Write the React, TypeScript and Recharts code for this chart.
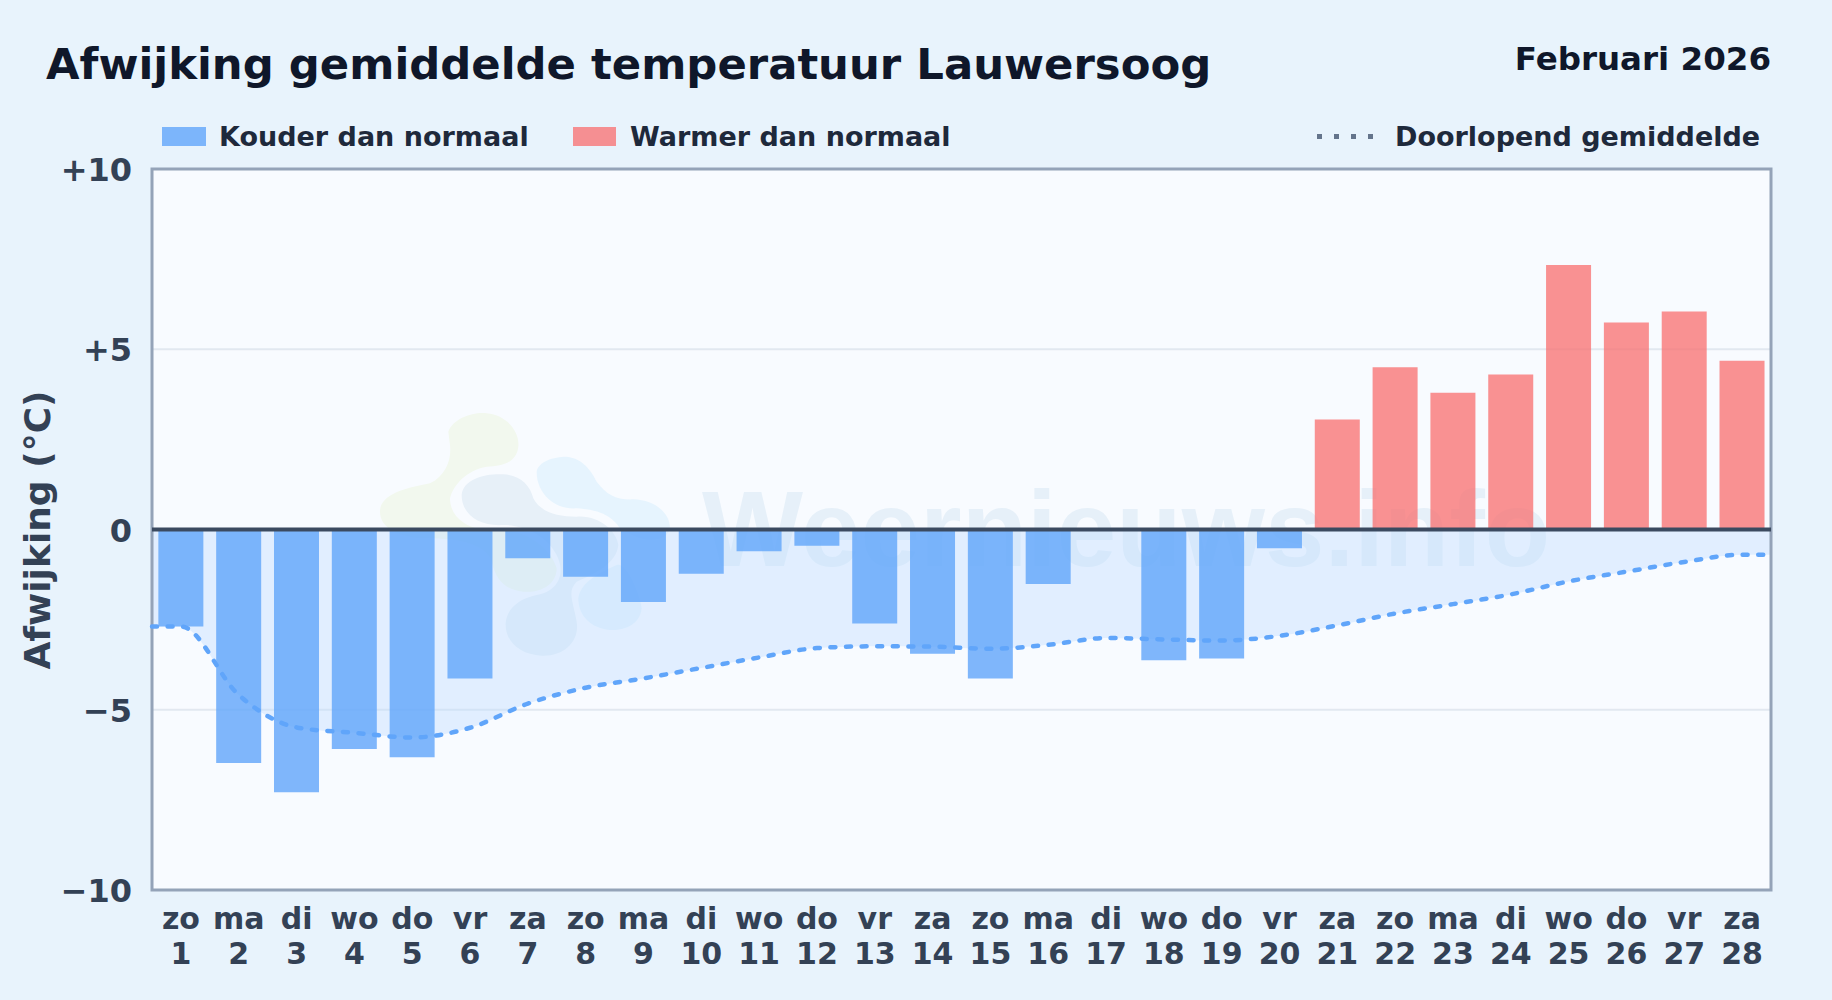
import {
  ComposedChart,
  Area,
  Bar,
  Line,
  Rectangle,
  XAxis,
  YAxis,
  CartesianGrid,
  ReferenceArea,
  ReferenceLine,
} from 'recharts'

const weekdays = ['zo', 'ma', 'di', 'wo', 'do', 'vr', 'za', 'zo', 'ma', 'di', 'wo', 'do', 'vr', 'za', 'zo', 'ma', 'di', 'wo', 'do', 'vr', 'za', 'zo', 'ma', 'di', 'wo', 'do', 'vr', 'za']
const days = [1, 2, 3, 4, 5, 6, 7, 8, 9, 10, 11, 12, 13, 14, 15, 16, 17, 18, 19, 20, 21, 22, 23, 24, 25, 26, 27, 28]
const deviation = [-2.69, -6.48, -7.29, -6.09, -6.32, -4.13, -0.8, -1.31, -2.01, -1.23, -0.6, -0.45, -2.61, -3.45, -4.13, -1.51, 0, -3.63, -3.58, -0.52, 3.05, 4.5, 3.79, 4.3, 7.34, 5.74, 6.05, 4.68]
const runningMean = [-2.69, -4.59, -5.49, -5.64, -5.77, -5.5, -4.83, -4.39, -4.13, -3.84, -3.55, -3.29, -3.24, -3.25, -3.31, -3.2, -3.01, -3.05, -3.08, -2.95, -2.66, -2.33, -2.07, -1.8, -1.44, -1.17, -0.9, -0.7]
const yTicks = [-10, -5, 0, 5, 10]
const yLabels = ['\u221210', '\u22125', '0', '+5', '+10']

const WIDTH = 1832
const HEIGHT = 1000
const BAR_WIDTH = 45
const FONT = '"DejaVu Sans", sans-serif'
const COLD = '#60a5fa'
const WARM = '#f87171'
const AXIS_TEXT = '#334155'

const barRows = days.map((day, i) => ({ day, value: deviation[i] }))

// the mean line runs on to both plot edges, so its table has a half-day extra on each side
const meanRows = [
  { day: 0.5, mean: runningMean[0] },
  ...days.map((day, i) => ({ day, mean: runningMean[i] })),
  { day: 28.5, mean: runningMean[27] },
]

function DayTick({ x, y, payload }: any) {
  const i = days.indexOf(payload.value)
  return (
    <text x={x} textAnchor="middle" fontFamily={FONT} fontSize={30} fontWeight={700} fill={AXIS_TEXT}>
      <tspan x={x} y={y + 31}>{weekdays[i]}</tspan>
      <tspan x={x} y={y + 66}>{payload.value}</tspan>
    </text>
  )
}

function ValueTick({ x, y, payload }: any) {
  return (
    <text x={x} y={y + 12} textAnchor="end" fontFamily={FONT} fontSize={32} fontWeight={700} fill={AXIS_TEXT}>
      {yLabels[yTicks.indexOf(payload.value)]}
    </text>
  )
}

// the half-day table points narrow the band, so the bar is widened around its own centre
function DayBar(props: any) {
  const cold = props.payload.value < 0
  return (
    <Rectangle
      {...props}
      x={props.x + (props.width - BAR_WIDTH) / 2}
      width={BAR_WIDTH}
      fill={cold ? COLD : WARM}
      fillOpacity={cold ? 0.8 : 0.77}
    />
  )
}

// site logo and name behind the plot, traced at 3x
function Watermark() {
  return (
    <svg width={WIDTH} height={HEIGHT} style={{ position: 'absolute', left: 0, top: 0 }}>
      <g transform="translate(360 395) scale(0.3333)">
        <path fill="#f2f8ee" d="M265 110 C280 70 340 50 380 55 C440 60 480 110 475 155 C470 200 430 215 380 215 C320 225 280 270 270 310 C270 360 310 395 370 405 C480 390 570 450 590 520 C590 570 540 595 490 590 C440 585 410 560 395 500 C380 450 300 430 200 430 C120 430 60 400 60 350 C60 300 130 280 210 265 C260 240 275 190 270 150 Z" />
        <path fill="#e7f0f8" d="M305 300 C310 250 380 235 430 238 C480 240 510 270 520 310 C540 350 590 365 650 365 C720 360 770 410 775 450 C770 500 720 530 650 560 C620 590 640 620 650 680 C660 740 610 785 545 782 C480 780 435 740 437 685 C440 640 480 610 530 600 C590 590 620 540 590 480 C560 420 490 390 430 390 C360 395 305 360 305 300 Z" />
        <path fill="#e6f4fe" d="M530 230 C535 200 580 185 620 185 C670 190 695 230 710 260 C740 300 770 315 820 313 C880 315 930 350 930 400 C925 430 870 460 780 400 C760 370 730 345 650 340 C590 345 530 300 530 230 Z" />
        <path fill="#e6f4fe" d="M655 610 C660 570 700 540 770 510 C800 500 840 600 845 640 C840 690 790 708 750 705 C690 700 655 660 655 610 Z" />
      </g>
      <text x={702} y={566} fontFamily='"Liberation Sans", sans-serif' fontSize={107} fontWeight={700} fill="#e6f0f9">
        Weernieuws.info
      </text>
    </svg>
  )
}

export default function App() {
  return (
    <div style={{ position: 'absolute', left: 0, top: 0, width: WIDTH, height: HEIGHT, background: '#e8f3fc', fontFamily: FONT, overflow: 'hidden' }}>
      <div style={{ position: 'absolute', left: 152, top: 169, width: 1619, height: 721, background: '#f8fbff' }} />
      <Watermark />

      <div style={{ position: 'absolute', left: 46, top: 39, fontSize: 43.35, fontWeight: 700, color: '#0f172a', whiteSpace: 'nowrap' }}>
        Afwijking gemiddelde temperatuur Lauwersoog
      </div>
      <div style={{ position: 'absolute', right: 61, top: 40, fontSize: 32.5, fontWeight: 700, color: '#0f172a', whiteSpace: 'nowrap' }}>
        Februari 2026
      </div>

      <div style={{ position: 'absolute', left: 162, top: 127, width: 44, height: 19, background: COLD, opacity: 0.8 }} />
      <div style={{ position: 'absolute', left: 219, top: 121, fontSize: 27, fontWeight: 700, color: '#1e293b', whiteSpace: 'nowrap' }}>
        Kouder dan normaal
      </div>
      <div style={{ position: 'absolute', left: 573, top: 127, width: 43, height: 19, background: WARM, opacity: 0.77 }} />
      <div style={{ position: 'absolute', left: 630, top: 121, fontSize: 27, fontWeight: 700, color: '#1e293b', whiteSpace: 'nowrap' }}>
        Warmer dan normaal
      </div>
      <div style={{ position: 'absolute', left: 1317, top: 134, width: 57, height: 5, background: 'repeating-linear-gradient(90deg, #64748b 0 5px, transparent 5px 16.9px)' }} />
      <div style={{ position: 'absolute', left: 1395, top: 121, fontSize: 27, fontWeight: 700, color: '#1e293b', whiteSpace: 'nowrap' }}>
        Doorlopend gemiddelde
      </div>

      <div style={{ position: 'absolute', left: 37, top: 530, fontSize: 36, fontWeight: 700, color: AXIS_TEXT, whiteSpace: 'nowrap', transform: 'translate(-50%, -50%) rotate(-90deg)' }}>
        Afwijking (°C)
      </div>

      <ComposedChart
        width={WIDTH}
        height={HEIGHT}
        data={barRows}
        margin={{ top: 169, right: 61, bottom: 0, left: 152 }}
        style={{ position: 'absolute', left: 0, top: 0 }}
      >
        <CartesianGrid horizontalValues={[-5, 5]} vertical={false} stroke="#e2e8f0" strokeWidth={2} />
        <XAxis
          dataKey="day"
          type="number"
          domain={[0.5, 28.5]}
          ticks={days}
          interval={0}
          height={110}
          axisLine={false}
          tickLine={false}
          tick={<DayTick />}
        />
        <YAxis
          type="number"
          domain={[-10, 10]}
          ticks={yTicks}
          width={0.01}
          axisLine={false}
          tickLine={false}
          tick={<ValueTick />}
          tickMargin={14}
        />
        <Area data={meanRows} dataKey="mean" type="monotone" stroke="none" fill="#bfdbfe" fillOpacity={0.4} isAnimationActive={false} />
        <Bar dataKey="value" shape={<DayBar />} isAnimationActive={false} />
        <Line data={meanRows} dataKey="mean" type="monotone" stroke={COLD} strokeWidth={4.5} strokeDasharray="5 10.6" strokeLinecap="round" dot={false} activeDot={false} isAnimationActive={false} />
        <ReferenceLine y={0} stroke="#3b4a60" strokeWidth={4} />
        <ReferenceArea x1={0.5} x2={28.5} y1={-10} y2={10} fill="none" stroke="#94a3b8" strokeWidth={3} />
      </ComposedChart>
    </div>
  )
}
